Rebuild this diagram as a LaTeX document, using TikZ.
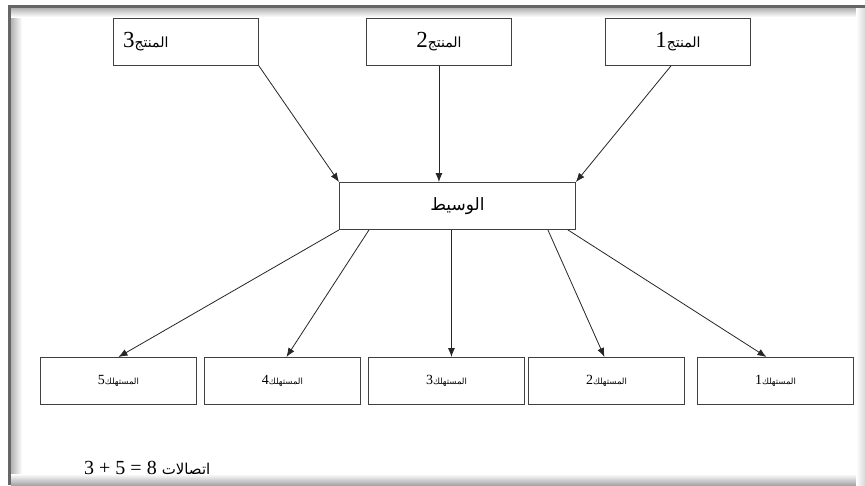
\documentclass[tikz,border=0pt]{standalone}
\usepackage{fontspec}
\setmainfont{Liberation Serif}
\newfontfamily\latinfont{Liberation Serif}
\newfontfamily\arabicfont[Script=Arabic]{DejaVu Sans}
\TeXXeTstate=1
\usetikzlibrary{arrows.meta}
\newcommand\artxt[1]{{\arabicfont\beginR #1\endR}}
\begin{document}
\begin{tikzpicture}[x=1pt,y=-1pt,
  box/.style={draw=black!75, line width=0.9pt, fill=white, inner sep=0pt, anchor=north west},
  prod/.style={box, minimum width=145pt, minimum height=47pt},
  cons/.style={box, minimum width=156pt, minimum height=47pt},
  arr/.style={draw=black!85, line width=0.8pt, -{Latex[length=9pt,width=7pt]}},
  lbl/.style={inner sep=0pt}]
\useasboundingbox (0,0) rectangle (865,485);
\fill[white] (0,0) rectangle (865,485);
% frame with shadow
\shade[left color=black!30, right color=white] (11,8) rectangle (22,485);
\shade[top color=black!30, bottom color=white] (11,8) rectangle (865,17);
\shade[top color=white, bottom color=black!35] (11,474) rectangle (865,485);
\shade[left color=white, right color=black!15] (856,8) rectangle (865,485);
\fill[black!60] (8,5) rectangle (865,8);
\fill[black!60] (8,5) rectangle (11,485);
% producers
\node[prod] (p3) at (113,18) {};
\node[prod] (p2) at (366,18) {};
\node[prod] (p1) at (605,18) {};
\node[lbl, anchor=west] (t3) at ([xshift=10pt]p3.west) {\latinfont\fontsize{23}{24}\selectfont 3\fontsize{14}{15}\selectfont\artxt{المنتج}};
\node[lbl] (t2) at (p2.center) {\latinfont\fontsize{23}{24}\selectfont 2\fontsize{14}{15}\selectfont\artxt{المنتج}};
\node[lbl] (t1) at (p1.center) {\latinfont\fontsize{23}{24}\selectfont 1\fontsize{14}{15}\selectfont\artxt{المنتج}};
% broker
\node[box, minimum width=236pt, minimum height=47pt] (b) at (339,182) {\fontsize{17}{19}\selectfont\artxt{الوسيط}};
% consumers
\node[cons] (c5) at (40,357) {\latinfont\fontsize{14}{15}\selectfont 5\fontsize{8.5}{9}\selectfont\artxt{المستهلك}};
\node[cons] (c4) at (204,357) {\latinfont\fontsize{14}{15}\selectfont 4\fontsize{8.5}{9}\selectfont\artxt{المستهلك}};
\node[cons] (c3) at (368,357) {\latinfont\fontsize{14}{15}\selectfont 3\fontsize{8.5}{9}\selectfont\artxt{المستهلك}};
\node[cons] (c2) at (528,357) {\latinfont\fontsize{14}{15}\selectfont 2\fontsize{8.5}{9}\selectfont\artxt{المستهلك}};
\node[cons] (c1) at (697,357) {\latinfont\fontsize{14}{15}\selectfont 1\fontsize{8.5}{9}\selectfont\artxt{المستهلك}};
% producer arrows
\draw[arr] (p3.south east) -- (b.north west);
\draw[arr] (p2.south) -- (p2.south |- b.north);
\draw[arr] ([xshift=-7pt]p1.south) -- (b.north east);
% consumer arrows
\draw[arr] (b.south west) -- (c5.north);
\draw[arr] ([xshift=30pt]b.south west) -- ([xshift=4pt]c4.north);
\draw[arr] ([xshift=-6pt]b.south) -- ([xshift=-6pt]b.south |- c3.north);
\draw[arr] ([xshift=-28pt]b.south east) -- ([xshift=-2pt]c2.north);
\draw[arr] ([xshift=-8pt]b.south east) -- ([xshift=-9pt]c1.north);
% formula
\node[anchor=base west, inner sep=0pt] (f) at (84,474) {\latinfont\fontsize{20}{22}\selectfont 3 + 5 = 8 \fontsize{15}{16}\selectfont\artxt{اتصالات}};
\end{tikzpicture}
\end{document}
